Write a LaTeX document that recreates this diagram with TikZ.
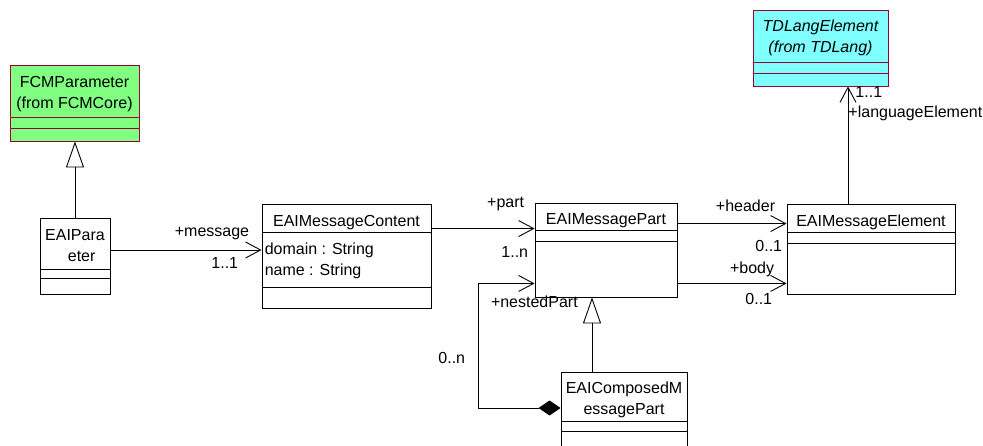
\documentclass[tikz,border=0pt]{standalone}
\usepackage{fontspec}
\setmainfont{Liberation Sans}
\usetikzlibrary{
        arrows.meta,
        positioning
    }
\definecolor{roseborder}{RGB}{153,0,51}
\definecolor{fcmgreen}{RGB}{128,255,128}
\definecolor{tdcyan}{RGB}{128,255,255}

\begin{document}
\begin{tikzpicture}
[x=1pt, y=-1pt,
classbox/.style={draw=black, fill=white, line width=0.9pt, inner sep=0pt},
fromfcm/.style={classbox, draw=roseborder, fill=fcmgreen},
fromtd/.style={classbox, draw=roseborder, fill=tdcyan},
classname/.style={font=\fontsize{16}{21}\selectfont, align=center, inner sep=0pt},
attrs/.style={font=\fontsize{16}{21}\selectfont, align=left, inner sep=0pt, anchor=north west},
role/.style={font=\fontsize{16}{19}\selectfont, inner sep=0pt},
divider/.style={line width=0.9pt},
assoc/.style={line width=0.9pt, -{Straight Barb[length=15pt, width=16pt]}},
inherit/.style={line width=0.9pt, -{Triangle[open, fill=white, length=26pt, width=18pt]}},
compose/.style={line width=0.9pt, {Diamond[length=22pt, width=15pt]}-{Straight Barb[length=15pt, width=16pt]}},
]
    \useasboundingbox (0,0) rectangle (983,446);
    \clip (0,0) rectangle (983,446);

    \node (fcm) [fromfcm, minimum width=129pt, minimum height=76pt] at (74.5,103) {};
    \node (fcmname) [classname] at ([yshift=-29.5pt]fcm.north) {FCMParameter\\(from FCMCore)};
    \draw[divider, roseborder] ([yshift=-53pt]fcm.north west) -- ([yshift=-53pt]fcm.north east) ([yshift=-64pt]fcm.north west) -- ([yshift=-64pt]fcm.north east);

    \node (param) [classbox, minimum width=70pt, minimum height=76pt] at (75,256) {};
    \node (paramname) [classname] at ([yshift=-28pt]param.north) {EAIPara\\\phantom{m}eter};
    \draw[divider] ([yshift=-52pt]param.north west) -- ([yshift=-52pt]param.north east) ([yshift=-61pt]param.north west) -- ([yshift=-61pt]param.north east);

    \node (content) [classbox, minimum width=169pt, minimum height=104pt] at (346.5,256) {};
    \node (contentname) [classname] at ([yshift=-19pt]content.north) {EAIMessageContent};
    \node (contentattrs) [attrs] at ([xshift=3pt, yshift=-39.5pt]content.north west) {domain : String\\name : String};
    \draw[divider] ([yshift=-29pt]content.north west) -- ([yshift=-29pt]content.north east) ([yshift=-84pt]content.north west) -- ([yshift=-84pt]content.north east);

    \node (part) [classbox, minimum width=142pt, minimum height=94pt] at (606,250) {};
    \node (partname) [classname] at ([yshift=-17.7pt]part.north) {EAIMessagePart};
    \draw[divider] ([yshift=-28pt]part.north west) -- ([yshift=-28pt]part.north east) ([yshift=-39pt]part.north west) -- ([yshift=-39pt]part.north east);

    \node (element) [classbox, minimum width=168pt, minimum height=90pt] at (871,249) {};
    \node (elementname) [classname] at ([yshift=-18.7pt]element.north) {EAIMessageElement};
    \draw[divider] ([yshift=-29pt]element.north west) -- ([yshift=-29pt]element.north east) ([yshift=-40pt]element.north west) -- ([yshift=-40pt]element.north east);

    \node (tdlang) [fromtd, minimum width=135pt, minimum height=76pt] at (820.5,48) {};
    \node (tdlangname) [classname, font=\fontsize{16}{21}\selectfont\itshape] at ([yshift=-28.5pt]tdlang.north) {TDLangElement\\(from TDLang)};
    \draw[divider, roseborder] ([yshift=-53pt]tdlang.north west) -- ([yshift=-53pt]tdlang.north east) ([yshift=-64pt]tdlang.north west) -- ([yshift=-64pt]tdlang.north east);

    \node (composed) [classbox, minimum width=126pt, minimum height=88pt] at (624,416) {};
    \node (composedname) [classname] at ([yshift=-28.5pt]composed.north) {EAIComposedM\\essagePart};
    \draw[divider] ([yshift=-50pt]composed.north west) -- ([yshift=-50pt]composed.north east) ([yshift=-60pt]composed.north west) -- ([yshift=-60pt]composed.north east);

    \draw[inherit] (param.north) -- (param.north |- fcm.south);
    \draw[inherit] ([xshift=-32pt]composed.north) -- ([xshift=-32pt]composed.north |- part.south);
    \draw[assoc] ([yshift=6pt]param.east) -- node[at end, role, anchor=base east, xshift=-12pt, yshift=13pt]{+message} node[at end, role, anchor=base east, xshift=-23pt, yshift=-19pt]{1..1} ([yshift=6pt]param.east -| content.west);
    \draw[assoc] ([yshift=-25pt]content.north east) -- node[at end, role, anchor=base east, xshift=-10pt, yshift=21pt]{+part} node[at end, role, anchor=base east, xshift=-6pt, yshift=-29pt]{1..n} ([yshift=-25pt]content.north east -| part.west);
    \draw[assoc] ([yshift=-21pt]part.north east) -- node[at end, role, anchor=base east, xshift=-11pt, yshift=12pt]{+header} node[at end, role, anchor=base east, xshift=-4pt, yshift=-28pt]{0..1} ([yshift=-21pt]part.north east -| element.west);
    \draw[assoc] ([yshift=14pt]part.south east) -- node[at end, role, anchor=base east, xshift=-12pt, yshift=10pt]{+body} node[at end, role, anchor=base east, xshift=-14pt, yshift=-21pt]{0..1} ([yshift=14pt]part.south east -| element.west);
    \draw[assoc] ([xshift=-23pt]element.north) -- node[at end, role, anchor=base west, xshift=7pt, yshift=-11pt]{1..1} node[at end, role, anchor=base west, yshift=-31pt]{+languageElement} ([xshift=-23pt]element.north |- tdlang.south);
    \draw[compose] ([yshift=8pt]composed.west) -- ++(-82,0) |- node[at start, role, anchor=base east, xshift=-13pt, yshift=44pt]{0..n} node[at end, role, anchor=base west, xshift=-44pt, yshift=-24pt]{+nestedPart} ([yshift=14pt]part.south west);
\end{tikzpicture}
\end{document}
